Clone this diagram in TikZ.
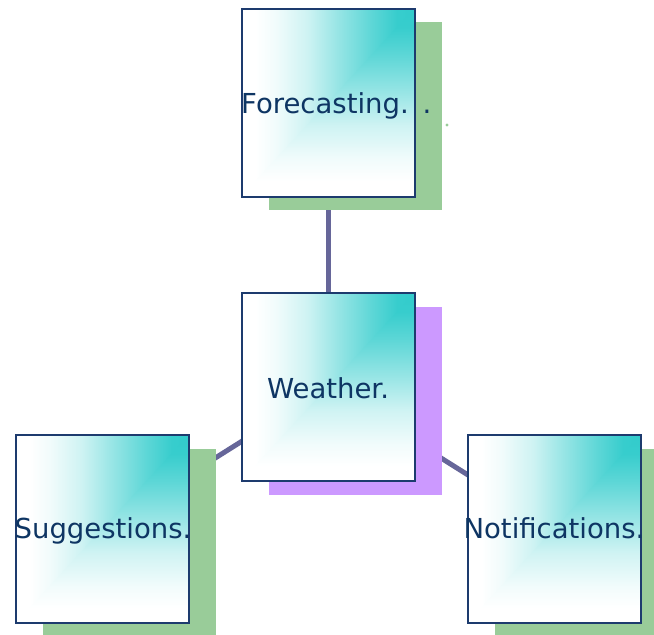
\documentclass[tikz,border=0pt]{standalone}
\usepackage{fontspec}
\setmainfont{DejaVu Sans}
\usetikzlibrary{shadows,backgrounds}

\definecolor{turq}{HTML}{33CCCC}
\definecolor{boxline}{HTML}{1D3B6E}
\definecolor{labelink}{HTML}{0E3563}
\definecolor{linkline}{HTML}{666699}
\definecolor{shadegreen}{HTML}{99CC99}
\definecolor{shadepurple}{HTML}{CC99FF}

% corner gradient: colour depends on the larger of the two (relative)
% distances from the top right corner; built from a horizontal ramp and a
% vertical ramp that meet on the diagonal
\pgfdeclarehorizontalshading{rampx}{100bp}{%
  color(0bp)=(white); color(29bp)=(white);
  color(35bp)=(turq!7!white); color(44bp)=(turq!24!white);
  color(52.5bp)=(turq!50!white); color(62.5bp)=(turq!79!white);
  color(70bp)=(turq!98!white); color(74bp)=(turq); color(100bp)=(turq)}
\pgfdeclareverticalshading{rampy}{100bp}{%
  color(0bp)=(white); color(29bp)=(white);
  color(35bp)=(turq!7!white); color(44bp)=(turq!24!white);
  color(52.5bp)=(turq!50!white); color(62.5bp)=(turq!79!white);
  color(70bp)=(turq!98!white); color(74bp)=(turq); color(100bp)=(turq)}

\tikzset{
  topicbox/.style={draw=boxline, line width=2pt,
    minimum width=173pt, minimum height=188pt, inner sep=0pt,
    path picture={
      \shade[shading=rampx] (path picture bounding box.north west)
        rectangle (path picture bounding box.south east);
      \shade[shading=rampy] (path picture bounding box.north east)
        -- (path picture bounding box.south east)
        -- (path picture bounding box.south west) -- cycle;
    }},
  greenshadow/.style={drop shadow={shadow xshift=27pt, shadow yshift=-13.5pt,
    fill=shadegreen, opacity=1}},
  purpleshadow/.style={drop shadow={shadow xshift=27pt, shadow yshift=-13.5pt,
    fill=shadepurple, opacity=1}},
  topictext/.style={text=labelink, inner sep=0pt,
    font=\fontsize{27.5}{33}\selectfont},
  link/.style={draw=linkline, line width=5pt}
}

\begin{document}
\begin{tikzpicture}[x=1pt, y=-1pt]
  \useasboundingbox (0,0) rectangle (654,635);

  % boxes with their offset shadows
  \node[topicbox, greenshadow]  (fore)  at (328,102.5)   {};
  \node[topicbox, purpleshadow] (hub)   at (328,387)     {};
  \node[topicbox, greenshadow]  (sugg)  at (102.5,529)   {};
  \node[topicbox, greenshadow]  (notif) at (554,529)     {};

  % labels
  \node[topictext, anchor=base west] (foretext) at (241,113) {Forecasting.\,\,\,.};
  \node[topictext, anchor=base] (hubtext)   at (328,398) {Weather.};
  \node[topictext, anchor=base] (suggtext)  at (103,538) {Suggestions.};
  \node[topictext, anchor=base] (notiftext) at (554,538) {Notifications.};

  % stray dot beside the top box
  \fill[shadegreen] (447,125) circle (1.6pt);

  % connectors run behind the boxes and their shadows
  \begin{scope}[on background layer]
    \draw[link] (hub.center) -- (fore.center);
    \draw[link] (hub.center) -- (sugg.center);
    \draw[link] (hub.center) -- (notif.center);
  \end{scope}
\end{tikzpicture}
\end{document}
